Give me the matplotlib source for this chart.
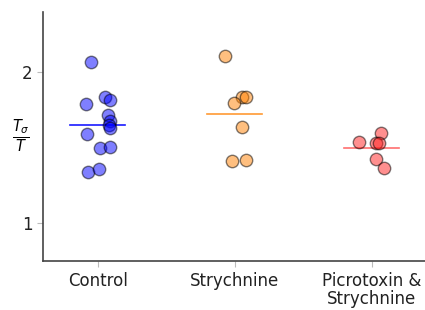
import numpy as np
import matplotlib.pyplot as plt

groups = ["Control", "Strychnine", "Picrotoxin &\nStrychnine"]
control = [2.07, 1.79, 1.84, 1.82, 1.72, 1.68, 1.65, 1.63, 1.59, 1.50, 1.505, 1.34, 1.36]
strychnine = [2.11, 1.84, 1.836, 1.80, 1.64, 1.41, 1.42]
picro_strych = [1.536, 1.60, 1.532, 1.53, 1.426, 1.364]

# horizontal jitter of each point (category units)
jitter = [
    [-0.046, -0.082, 0.056, 0.088, 0.075, 0.088, 0.083, 0.088, -0.078, 0.02, 0.088, -0.071, 0.007],
    [-0.073, 0.056, 0.085, -0.005, 0.056, -0.02, 0.08],
    [-0.093, 0.066, 0.034, 0.051, 0.029, 0.09],
]

fill = ["#0000ff", "#ff8000", "#ff2020"]
line = ["#1a1aff", "#ff9a33", "#ff6f6f"]

fig = plt.figure(figsize=(4.25, 3.1), dpi=100)
ax = fig.add_axes([0.101, 0.158, 0.899, 0.803])

for i, vals in enumerate([control, strychnine, picro_strych]):
    x = i + np.array(jitter[i])
    ax.scatter(x, vals, s=80, c=fill[i], alpha=0.5, edgecolors="black", linewidths=1.0, zorder=3)
    ax.plot([i - 0.2, i + 0.2], [np.mean(vals)] * 2, color=line[i], lw=1.2, zorder=2)

ax.set_xlim(-0.4, 2.39)
ax.set_ylim(0.75, 2.4)
ax.set_yticks([1, 2])
ax.set_xticks([0, 1, 2])
ax.set_xticklabels(groups, fontsize=12, linespacing=1.0)
ax.tick_params(axis="y", labelsize=12)
ax.tick_params(axis="x", pad=4)
ax.tick_params(colors="#bbbbbb", labelcolor="#222222", length=4, width=0.8)
ax.set_ylabel(r"$\frac{T_\sigma}{T}$", rotation=0, fontsize=15, va="center", ha="center")
ax.yaxis.set_label_coords(-0.058, 0.5)
for s in ["top", "right"]:
    ax.spines[s].set_visible(False)
for s in ["left", "bottom"]:
    ax.spines[s].set_color("#444444")
    ax.spines[s].set_linewidth(1.2)

fig.savefig("out.png", dpi=100)
